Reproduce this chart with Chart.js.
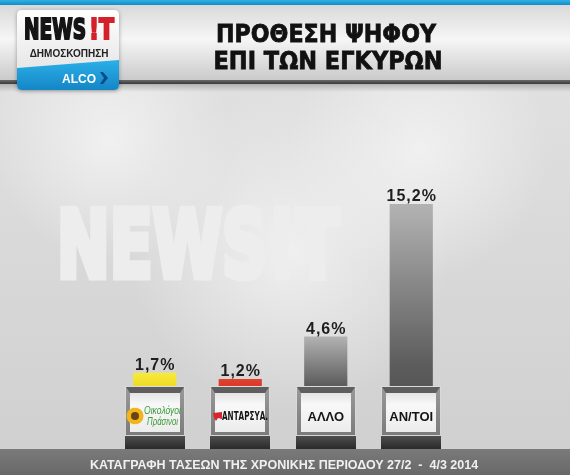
<!DOCTYPE html>
<html>
<head>
<meta charset="utf-8">
<script src="https://cdn.jsdelivr.net/npm/chart.js@4"></script>
<style>
  html, body { margin: 0; padding: 0; background: #d9d9d9; }
  #wrap { width: 570px; height: 475px; }
</style>
</head>
<body>
<div id="wrap"><canvas id="myChart" width="570" height="475"></canvas></div>
<script>
// data
const CATEGORIES = ["Οικολόγοι Πράσινοι", "ΑΝΤΑΡΣΥΑ", "ΑΛΛΟ", "ΑΝ/ΤΟΙ"];
const VALUES = [1.7, 1.2, 4.6, 15.2];
const VALUE_LABELS = ["1,7%", "1,2%", "4,6%", "15,2%"];
const TITLE_LINES = ["ΠΡΟΘΕΣΗ ΨΗΦΟΥ", "ΕΠΙ ΤΩΝ ΕΓΚΥΡΩΝ"];
const FOOTER_TEXT = "ΚΑΤΑΓΡΑΦΗ ΤΑΣΕΩΝ ΤΗΣ ΧΡΟΝΙΚΗΣ ΠΕΡΙΟΔΟΥ 27/2  -  4/3 2014";

const BAR_KIND = ["yellow", "red", "grey", "grey"];
const FONT = "'Liberation Sans', Arial, sans-serif";
const HEAVY = "'DejaVu Sans', 'Liberation Sans', sans-serif";
const NARROW = "'Liberation Sans Narrow', 'DejaVu Sans Condensed', 'Liberation Sans', sans-serif";

function roundRect(ctx, x, y, w, h, r) {
    ctx.beginPath();
    ctx.moveTo(x + r, y);
    ctx.lineTo(x + w - r, y);
    ctx.quadraticCurveTo(x + w, y, x + w, y + r);
    ctx.lineTo(x + w, y + h - r);
    ctx.quadraticCurveTo(x + w, y + h, x + w - r, y + h);
    ctx.lineTo(x + r, y + h);
    ctx.quadraticCurveTo(x, y + h, x, y + h - r);
    ctx.lineTo(x, y + r);
    ctx.quadraticCurveTo(x, y, x + r, y);
    ctx.closePath();
}

// heavy text: fill plus a stroke of the same colour
function boldText(ctx, text, x, y, maxW, color, weight) {
    ctx.fillStyle = color;
    ctx.strokeStyle = color;
    ctx.lineWidth = weight;
    ctx.lineJoin = "miter";
    ctx.strokeText(text, x, y, maxW);
    ctx.fillText(text, x, y, maxW);
}

function drawBackground(ctx) {
    // page
    let g = ctx.createLinearGradient(0, 85, 0, 450);
    g.addColorStop(0, "#e0e0e0");
    g.addColorStop(1, "#d0d0d0");
    ctx.fillStyle = g;
    ctx.fillRect(0, 0, 570, 475);
    [[110, 140, 120], [420, 150, 130], [290, 250, 160]].forEach(s => {
        let r = ctx.createRadialGradient(s[0], s[1], 0, s[0], s[1], s[2]);
        r.addColorStop(0, "rgba(245,245,245,0.8)");
        r.addColorStop(1, "rgba(245,245,245,0)");
        ctx.fillStyle = r;
        ctx.fillRect(0, 85, 570, 365);
    });

    // header band
    g = ctx.createLinearGradient(0, 5, 0, 81);
    g.addColorStop(0, "#d9d9d9");
    g.addColorStop(0.45, "#f6f6f6");
    g.addColorStop(1, "#c9c9c9");
    ctx.fillStyle = g;
    ctx.fillRect(0, 5, 570, 76);
    g = ctx.createLinearGradient(0, 0, 0, 5);
    g.addColorStop(0, "#2fb1e6");
    g.addColorStop(1, "#138bc6");
    ctx.fillStyle = g;
    ctx.fillRect(0, 0, 570, 5);
    g = ctx.createLinearGradient(0, 80, 0, 85);
    g.addColorStop(0, "#6a6a6a");
    g.addColorStop(1, "#2e2e2e");
    ctx.fillStyle = g;
    ctx.fillRect(0, 80, 570, 4);
    g = ctx.createLinearGradient(0, 84, 0, 92);
    g.addColorStop(0, "rgba(120,120,120,0.45)");
    g.addColorStop(1, "rgba(120,120,120,0)");
    ctx.fillStyle = g;
    ctx.fillRect(0, 84, 570, 8);

    // title
    ctx.textAlign = "center";
    ctx.textBaseline = "alphabetic";
    ctx.font = "bold 25px " + HEAVY;
    boldText(ctx, TITLE_LINES[0], 326, 42, 220, "#111", 0.8);
    boldText(ctx, TITLE_LINES[1], 328, 69, 229, "#111", 0.8);

    // logo
    ctx.save();
    ctx.shadowColor = "rgba(0,0,0,0.35)";
    ctx.shadowBlur = 4;
    ctx.shadowOffsetY = 1;
    roundRect(ctx, 17, 10, 102, 80, 5);
    g = ctx.createLinearGradient(0, 10, 0, 70);
    g.addColorStop(0, "#ffffff");
    g.addColorStop(1, "#e6e6e6");
    ctx.fillStyle = g;
    ctx.fill();
    ctx.restore();
    ctx.save();
    roundRect(ctx, 17, 10, 102, 80, 5);
    ctx.clip();
    ctx.beginPath();
    ctx.moveTo(17, 68);
    ctx.lineTo(119, 60);
    ctx.lineTo(119, 90);
    ctx.lineTo(17, 90);
    ctx.closePath();
    g = ctx.createLinearGradient(0, 60, 0, 90);
    g.addColorStop(0, "#2cb0e8");
    g.addColorStop(1, "#1486c6");
    ctx.fillStyle = g;
    ctx.fill();
    ctx.restore();
    ctx.textAlign = "left";
    ctx.font = "bold 28px " + HEAVY;
    boldText(ctx, "NEWS", 24, 39, 62, "#141414", 2);
    boldText(ctx, "!T", 89, 39, 25, "#d3202a", 2);
    ctx.font = "bold 10px " + FONT;
    ctx.fillStyle = "#222";
    ctx.textAlign = "center";
    ctx.fillText("ΔΗΜΟΣΚΟΠΗΣΗ", 69, 57, 88);
    ctx.font = "bold 12px " + FONT;
    ctx.fillStyle = "#ffffff";
    ctx.fillText("ALCO", 79, 83, 36);
    ctx.beginPath();
    ctx.moveTo(100, 72);
    ctx.lineTo(103, 72);
    ctx.lineTo(108, 78);
    ctx.lineTo(103, 84);
    ctx.lineTo(100, 84);
    ctx.lineTo(104, 78);
    ctx.closePath();
    ctx.fillStyle = "#0d4a88";
    ctx.fill();

    // watermark
    ctx.textAlign = "left";
    ctx.font = "bold 92px " + HEAVY;
    boldText(ctx, "NEWS!T", 57, 277, 282, "#ededed", 7);
}

function drawBox(ctx, cx, i) {
    const w = 60, x = Math.round(cx - w / 2), top = 386, faceBottom = 436, bottom = 449;
    let g = ctx.createLinearGradient(0, top, 0, faceBottom);
    g.addColorStop(0, "#9a9a9a");
    g.addColorStop(1, "#7a7a7a");
    ctx.fillStyle = g;
    ctx.fillRect(x, top, w, faceBottom - top);
    ctx.strokeStyle = "rgba(235,235,235,0.8)";
    ctx.lineWidth = 1;
    ctx.strokeRect(x + 0.5, top + 0.5, w - 1, faceBottom - top - 1);
    // top bevel
    ctx.beginPath();
    ctx.moveTo(x + 1, top + 1);
    ctx.lineTo(x + w - 1, top + 1);
    ctx.lineTo(x + w - 5, top + 7);
    ctx.lineTo(x + 5, top + 7);
    ctx.closePath();
    ctx.fillStyle = "#5e5e5e";
    ctx.fill();
    // face
    g = ctx.createLinearGradient(0, top + 7, 0, faceBottom - 4);
    g.addColorStop(0, "#e4e4e4");
    g.addColorStop(0.3, "#f8f8f8");
    g.addColorStop(1, "#ececec");
    ctx.fillStyle = g;
    ctx.fillRect(x + 5, top + 7, w - 10, faceBottom - top - 11);
    // bottom block
    g = ctx.createLinearGradient(0, faceBottom, 0, bottom);
    g.addColorStop(0, "#4e4e4e");
    g.addColorStop(1, "#2a2a2a");
    ctx.fillStyle = g;
    ctx.fillRect(x, faceBottom, w, bottom - faceBottom);

    const cy = 416;
    ctx.textBaseline = "middle";
    if (i === 0) {
        // sunflower
        const sx = x + 10, sy = cy;
        ctx.fillStyle = "#f2b51c";
        for (let k = 0; k < 14; k++) {
            const a = k * Math.PI / 7;
            ctx.beginPath();
            ctx.arc(sx + Math.cos(a) * 5.5, sy + Math.sin(a) * 5.5, 3, 0, Math.PI * 2);
            ctx.fill();
        }
        ctx.fillStyle = "#6a4512";
        ctx.beginPath();
        ctx.arc(sx, sy, 4, 0, Math.PI * 2);
        ctx.fill();
        ctx.fillStyle = "#3c9a3a";
        ctx.textAlign = "left";
        ctx.font = "italic 10px " + FONT;
        ctx.fillText("Οικολόγοι", x + 19, cy - 5, 37);
        ctx.fillText("Πράσινοι", x + 22, cy + 6, 31);
    } else if (i === 1) {
        ctx.fillStyle = "#d9262c";
        ctx.beginPath();
        ctx.moveTo(x + 3, cy - 3);
        ctx.lineTo(x + 12, cy - 4);
        ctx.lineTo(x + 12, cy + 3);
        ctx.lineTo(x + 8, cy + 2);
        ctx.lineTo(x + 6, cy + 5);
        ctx.lineTo(x + 4, cy + 2);
        ctx.closePath();
        ctx.fill();
        ctx.fillStyle = "#151515";
        ctx.textAlign = "left";
        ctx.font = "bold 13px " + NARROW;
        ctx.fillText("ΑΝΤΑΡΣΥΑ.", x + 12, cy + 1, 46);
    } else {
        ctx.fillStyle = "#151515";
        ctx.textAlign = "center";
        ctx.font = "bold 13px " + FONT;
        ctx.fillText(CATEGORIES[i], cx, cy + 1, 48);
    }
    ctx.textBaseline = "alphabetic";
}

function barColor(context) {
    const chart = context.chart;
    const i = context.dataIndex;
    if (!chart.chartArea) return "#888";
    const y = chart.scales.y;
    const top = y.getPixelForValue(VALUES[i]);
    const base = y.getPixelForValue(0);
    const g = chart.ctx.createLinearGradient(0, top, 0, base);
    if (BAR_KIND[i] === "yellow") {
        g.addColorStop(0, "#f7ea3a");
        g.addColorStop(1, "#e9d21e");
    } else if (BAR_KIND[i] === "red") {
        g.addColorStop(0, "#e2422f");
        g.addColorStop(1, "#cf2c25");
    } else {
        g.addColorStop(0, "#b3b3b3");
        g.addColorStop(0.85, "#5c5c5c");
        g.addColorStop(1, "#555555");
    }
    return g;
}

const decorations = {
    id: "decorations",
    beforeDraw(chart) {
        drawBackground(chart.ctx);
    },
    afterDatasetsDraw(chart) {
        const ctx = chart.ctx;
        const meta = chart.getDatasetMeta(0);
        meta.data.forEach((bar, i) => {
            drawBox(ctx, bar.x, i);
            ctx.fillStyle = "#1e1e1e";
            ctx.textAlign = "center";
            ctx.font = "bold 16px " + FONT;
            ctx.letterSpacing = "1px";
            ctx.fillText(VALUE_LABELS[i], bar.x + 0.5, bar.y - 3);
            ctx.letterSpacing = "0px";
        });
        // footer
        let g = ctx.createLinearGradient(0, 449, 0, 475);
        g.addColorStop(0, "#7a7a7a");
        g.addColorStop(1, "#686868");
        ctx.fillStyle = g;
        ctx.fillRect(0, 449, 570, 26);
        ctx.fillStyle = "#f0f0f0";
        ctx.textAlign = "center";
        ctx.textBaseline = "middle";
        ctx.font = "bold 12.5px " + FONT;
        ctx.fillText(FOOTER_TEXT, 284, 466, 402);
        ctx.textBaseline = "alphabetic";
    }
};

let ctx = document.getElementById("myChart").getContext("2d");
let myChart = new Chart(ctx, {
    type: "bar",
    data: {
        labels: CATEGORIES,
        datasets: [{
            data: VALUES,
            backgroundColor: barColor,
            borderWidth: 0,
            categoryPercentage: 1,
            barPercentage: 0.505
        }]
    },
    options: {
        responsive: false,
        animation: false,
        devicePixelRatio: 1,
        layout: {
            padding: { left: 112, right: 116, top: 144, bottom: 81 }
        },
        plugins: {
            legend: { display: false },
            title: { display: false },
            tooltip: { enabled: false }
        },
        scales: {
            x: { display: false },
            y: { display: false, min: 0, max: 20 }
        }
    },
    plugins: [decorations]
});
</script>
</body>
</html>
